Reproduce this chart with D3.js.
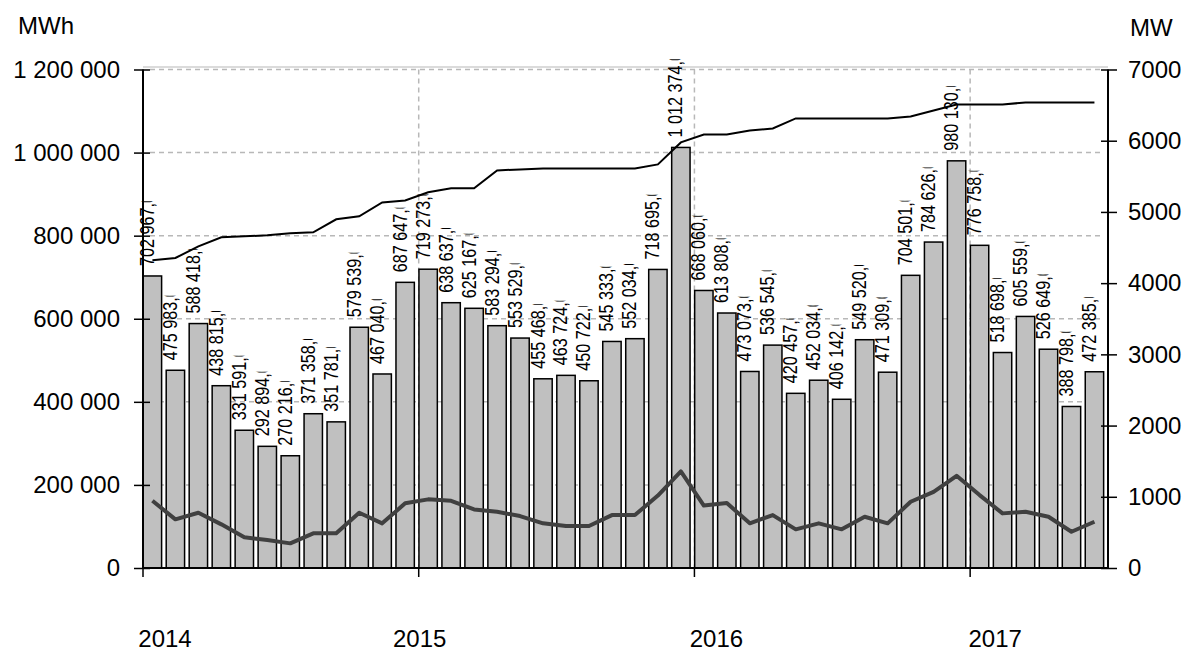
<!DOCTYPE html>
<html>
<head>
<meta charset="utf-8">
<script src="https://cdn.jsdelivr.net/npm/d3@7"></script>
<style>
  body { margin: 0; background: #fff; }
  text { font-family: "Liberation Sans", Arial, sans-serif; }
</style>
</head>
<body>
<svg width="1186" height="651"></svg>
<script>
// monthly production (MWh), installed capacity (MW), average power (MW)
var months = d3.timeMonth.range(new Date(2014, 0, 1), new Date(2017, 6, 1));
var years = ["2014", "2015", "2016", "2017"];
var energy = [702967, 475983, 588418, 438815, 331591, 292894, 270216, 371358, 351781, 579539, 467040, 687647,
  719273, 638637, 625167, 583294, 553529, 455468, 463724, 450722, 545333, 552034, 718695, 1012374,
  668060, 613808, 473073, 536545, 420457, 452034, 406142, 549520, 471309, 704501, 784626, 980130,
  776758, 518698, 605559, 526649, 388798, 472385];
var capacity = [4321, 4353, 4517, 4643, 4657, 4671, 4699, 4713, 4896, 4938, 5134, 5162,
  5275, 5331, 5331, 5583, 5597, 5611, 5611, 5611, 5611, 5611, 5667, 5976,
  6088, 6088, 6144, 6172, 6313, 6313, 6313, 6313, 6313, 6341, 6425, 6509,
  6509, 6509, 6537, 6537, 6537, 6537];
var power = [944, 683, 776, 613, 431, 393, 346, 487, 487, 776, 627, 908,
  964, 944, 823, 790, 729, 627, 589, 589, 743, 743, 1017, 1357,
  877, 912, 627, 743, 543, 627, 543, 720, 627, 930, 1070, 1295,
  1024, 767, 790, 720, 509, 650];
var leftTicks = [0, 200000, 400000, 600000, 800000, 1000000, 1200000];
var rightTicks = [0, 1000, 2000, 3000, 4000, 5000, 6000, 7000];

var svg = d3.select("svg");
var pLeft = 143, pRight = 1108, pTop = 69.5, pBottom = 568;

var pl = d3.formatLocale({decimal: ",", thousands: " ", grouping: [3], currency: ["", ""]});
var fmt = pl.format(",d");

var x = d3.scaleBand()
    .domain(d3.range(months.length))
    .range([pLeft, pRight])
    .paddingInner(0.2)
    .paddingOuter(0.1)
    .align(0.05);
var yL = d3.scaleLinear().domain([0, 1200000]).range([pBottom, pTop]);
var yR = d3.scaleLinear().domain([0, 7000]).range([pBottom, pTop]);

var yearIdx = years.map(function(y) {
  return months.findIndex(function(m) { return m.getFullYear() == +y; });
});
var yearX = function(i) { return pLeft + x.step() * i; };

// grid
var grid = svg.append("g").attr("stroke", "#b8b8b8").attr("stroke-width", 1.5);
grid.append("line")
    .attr("x1", pLeft).attr("x2", pRight)
    .attr("y1", pTop - 2.5).attr("y2", pTop - 2.5)
    .attr("stroke", "#cfcfcf");
grid.selectAll(".hg").data(leftTicks.slice(1)).enter().append("line")
    .attr("x1", pLeft + 7).attr("x2", pRight - 7)
    .attr("y1", d => yL(d)).attr("y2", d => yL(d))
    .attr("stroke-dasharray", "5,4");
grid.selectAll(".vg").data(yearIdx.slice(1)).enter().append("line")
    .attr("x1", d => yearX(d)).attr("x2", d => yearX(d))
    .attr("y1", pTop).attr("y2", pBottom)
    .attr("stroke-dasharray", "5,4");

// bars
svg.append("g").selectAll("rect").data(energy).enter().append("rect")
    .attr("x", (d, i) => x(i))
    .attr("y", d => yL(d))
    .attr("width", x.bandwidth())
    .attr("height", d => pBottom - yL(d))
    .attr("fill", "#c0c0c0")
    .attr("stroke", "#000")
    .attr("stroke-width", 1.5);

// lines
var cx = function(i) { return x(i) + x.bandwidth() / 2; };
svg.append("path")
    .datum(capacity)
    .attr("fill", "none")
    .attr("stroke", "#000")
    .attr("stroke-width", 2)
    .attr("d", d3.line().x((d, i) => cx(i)).y(d => yR(d)));
svg.append("path")
    .datum(power)
    .attr("fill", "none")
    .attr("stroke", "#404040")
    .attr("stroke-width", 4)
    .attr("stroke-linejoin", "round")
    .attr("d", d3.line().x((d, i) => cx(i)).y(d => yR(d)));

// value labels (last digit cut off like in the original)
var defs = svg.append("defs");
var lab = svg.append("g").selectAll("g").data(energy).enter().append("g")
    .attr("transform", (d, i) => "translate(" + (cx(i) + 1.5) + "," + (yL(d) - 10) + ") rotate(-90) scale(0.79,1)");
lab.append("text")
    .attr("font-size", 20.5)
    .attr("fill", "#000")
    .text(d => fmt(d) + ",0")
    .each(function(d, i) {
      var n = this.getNumberOfChars();
      var w = this.getSubStringLength(0, n - 1);
      defs.append("clipPath").attr("id", "lc" + i)
        .append("rect").attr("x", -4).attr("y", -30).attr("width", w + 6).attr("height", 40);
      d3.select(this).attr("clip-path", "url(#lc" + i + ")");
    });

// axes
var axL = svg.append("g").attr("transform", "translate(" + pLeft + ",0)")
    .call(d3.axisLeft(yL).tickValues(leftTicks).tickFormat(fmt).tickSize(9).tickPadding(14));
axL.selectAll(".tick line").attr("x1", 7);
var axR = svg.append("g").attr("transform", "translate(" + pRight + ",0)")
    .call(d3.axisRight(yR).tickValues(rightTicks).tickFormat(d3.format("d")).tickSize(9).tickPadding(11));
axR.selectAll(".tick line").attr("x1", -7);
var axB = svg.append("g").attr("transform", "translate(0," + pBottom + ")")
    .call(d3.axisBottom(x).tickValues(yearIdx).tickFormat("").tickSize(9));
axB.selectAll(".tick").attr("transform", d => "translate(" + yearX(d) + ",0)");

[axL, axR, axB].forEach(function(a) {
  a.select(".domain").attr("stroke", "#000").attr("stroke-width", 2);
  a.selectAll(".tick line").attr("stroke", "#000").attr("stroke-width", 1.5);
  a.selectAll("text").attr("font-size", 24).attr("fill", "#000")
    .attr("font-family", '"Liberation Sans", Arial, sans-serif');
});
axL.select(".domain").attr("d", "M0," + pTop + "V" + pBottom);
axR.select(".domain").attr("d", "M0," + pTop + "V" + pBottom);
axB.select(".domain").attr("d", "M" + pLeft + ",0H" + pRight);

// year labels (excel put them a bit unevenly)
var yearShift = [22, 1, 22, 25];
svg.append("g").selectAll("text").data(years).enter().append("text")
    .attr("x", (d, i) => yearX(yearIdx[i]) + yearShift[i])
    .attr("y", 647)
    .attr("text-anchor", "middle")
    .attr("font-size", 24)
    .text(d => d);

// units
svg.append("text").attr("x", 18).attr("y", 34).attr("font-size", 24).text("MWh");
svg.append("text").attr("x", 1130).attr("y", 36).attr("font-size", 24).text("MW");
</script>
</body>
</html>
